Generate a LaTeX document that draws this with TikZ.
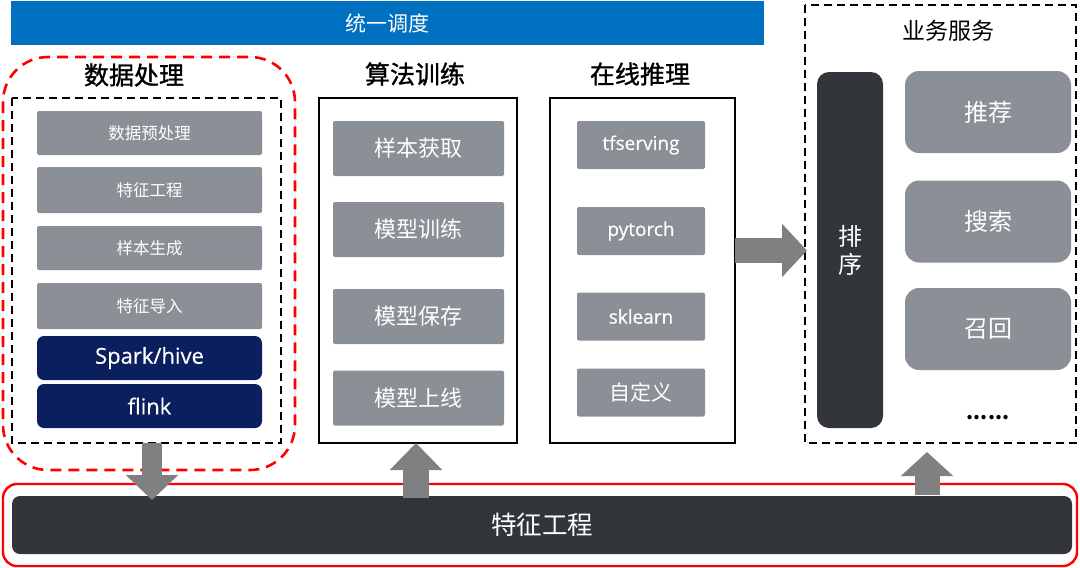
\documentclass[tikz,border=0pt]{standalone}
\usepackage{fontspec}
\setmainfont{Noto Sans CJK SC}
\newfontfamily\lat[FakeBold=0.4]{Open Sans}
\newfontfamily\ttlfont[FakeBold=1.2]{Noto Sans CJK SC}
\usetikzlibrary{arrows.meta}
\definecolor{bluebar}{HTML}{0070C0}
\definecolor{gbox}{HTML}{8A9096}
\definecolor{navy}{HTML}{0B1F5E}
\definecolor{darkbar}{HTML}{32363A}
\definecolor{arrowgray}{HTML}{808080}
\tikzset{
  graybox/.style={fill=gbox, draw=none, rounded corners=2pt, text=white, inner sep=0pt},
  navybox/.style={fill=navy, draw=none, rounded corners=7pt, text=white, inner sep=0pt},
  svcbox/.style={fill=gbox, draw=none, rounded corners=14pt, text=white, inner sep=0pt},
  title/.style={font=\ttlfont\fontsize{25}{28}\selectfont, text=black},
  blockarrow/.style={draw=arrowgray, line width=#1},
  blockarrow/.default=22pt,
}
\begin{document}
\begin{tikzpicture}[x=1pt,y=-1pt]
\useasboundingbox (0,0) rectangle (1080,568);
% top bar
\node[fill=bluebar, minimum width=753pt, minimum height=44pt, inner sep=0pt, text=white,
      font=\fontsize{21}{24}\selectfont] (sched) at (387.5,23) {统一调度};
% data processing
\draw[red, line width=2.6pt, dash pattern=on 11pt off 7pt, rounded corners=45pt] (3,57) rectangle (295,470);
\node[title] (t1) at (134,75) {数据处理};
\draw[black, line width=1.8pt, dash pattern=on 8pt off 5pt] (12,98) rectangle (281,443);
\coordinate (dpbox) at (146.5,443);
\begin{scope}[every node/.append style={minimum width=225pt}]
\node[graybox, minimum height=44pt, font=\fontsize{16.5}{19}\selectfont] (d1) at (149.5,133) {数据预处理};
\node[graybox, minimum height=46pt, font=\fontsize{16.5}{19}\selectfont] (d2) at (149.5,190) {特征工程};
\node[graybox, minimum height=44pt, font=\fontsize{16.5}{19}\selectfont] (d3) at (149.5,248) {样本生成};
\node[graybox, minimum height=46pt, font=\fontsize{16.5}{19}\selectfont] (d4) at (149.5,306) {特征导入};
\node[navybox, minimum height=44pt, font=\lat\fontsize{22}{26}\selectfont] (d5) at (149.5,358) {Spark/hive};
\node[navybox, minimum height=44pt, font=\lat\fontsize{22}{26}\selectfont] (d6) at (149.5,406) {flink};
\end{scope}
% training
\node[title] (t2) at (415,74) {算法训练};
\draw[black, line width=1.6pt] (319,98) rectangle (517,443);
\coordinate (trbox) at (416,443);
\begin{scope}[every node/.append style={minimum width=171pt, minimum height=55pt, font=\fontsize{22}{26}\selectfont}]
\node[graybox] (m1) at (418.5,148.5) {样本获取};
\node[graybox] (m2) at (418.5,229.5) {模型训练};
\node[graybox] (m3) at (418.5,316.5) {模型保存};
\node[graybox] (m4) at (418.5,398) {模型上线};
\end{scope}
% inference
\node[title] (t3) at (640,74) {在线推理};
\draw[black, line width=1.6pt] (550,98) rectangle (735,443);
\coordinate (infr) at (735,250.5);
\begin{scope}[every node/.append style={minimum width=128pt, minimum height=48pt}]
\node[graybox, font=\lat\fontsize{19}{22}\selectfont] (i1) at (641,145) {tfserving};
\node[graybox, font=\lat\fontsize{19}{22}\selectfont] (i2) at (641,231) {pytorch};
\node[graybox, font=\lat\fontsize{19}{22}\selectfont] (i3) at (641,316.5) {sklearn};
\node[graybox, font=\fontsize{21}{24}\selectfont] (i4) at (641,392.5) {自定义};
\end{scope}
% business services
\draw[black, line width=1.8pt, dash pattern=on 8pt off 5pt] (805,5) rectangle (1076,443);
\coordinate (svcbot) at (927,452);
\node[font=\fontsize{23}{26}\selectfont] (t4) at (948,31) {业务服务};
\node[fill=darkbar, rounded corners=12pt, minimum width=66pt, minimum height=356pt, inner sep=0pt,
      text=white, font=\fontsize{24}{28}\selectfont, align=center] (rank) at (850,250) {排\\序};
\coordinate (rankw) at (807,250.5);
\begin{scope}[every node/.append style={minimum width=166pt, minimum height=82pt, font=\fontsize{24}{28}\selectfont}]
\node[svcbox] (s1) at (988,112) {推荐};
\node[svcbox] (s2) at (988,221.5) {搜索};
\node[svcbox] (s3) at (988,329) {召回};
\end{scope}
\node[font=\bfseries\fontsize{20}{24}\selectfont] (dots) at (988,418) {......};
% feature engineering
\draw[red, line width=2.4pt, rounded corners=14pt] (3,484) rectangle (1077,566);
\node[fill=darkbar, rounded corners=8pt, minimum width=1060pt, minimum height=58pt, inner sep=0pt,
      text=white, font=\fontsize{25.5}{29}\selectfont] (fe) at (542,525) {特征工程};
\coordinate (fein) at (152,500);
\coordinate (fetr) at (416,498);
\coordinate (fesv) at (927,495);
% arrows
\draw[blockarrow=20pt, -{Triangle[length=25pt, width=51pt]}] (dpbox -| fein) -- (fein);
\draw[blockarrow=26pt, -{Triangle[length=27pt, width=51pt]}] (fetr) -- (trbox);
\draw[blockarrow=25pt, -{Triangle[length=24pt, width=51pt]}] (fesv) -- (svcbot);
\draw[blockarrow=25pt, -{Triangle[length=25pt, width=52pt]}] (infr) -- (rankw);
\end{tikzpicture}
\end{document}
